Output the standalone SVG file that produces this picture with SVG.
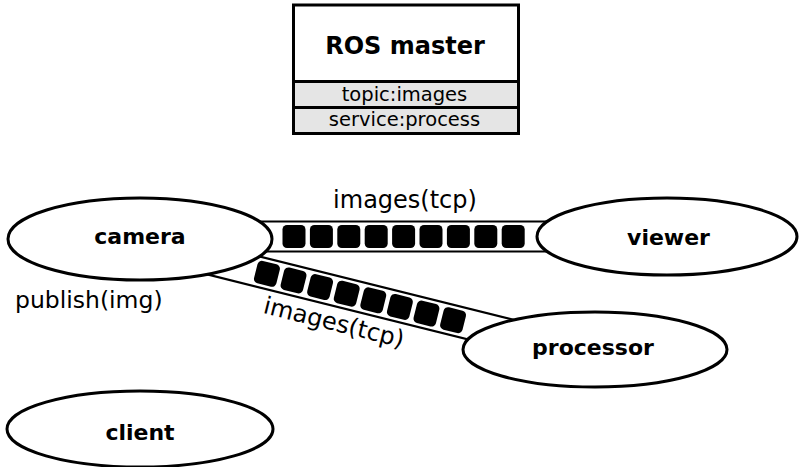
<svg xmlns="http://www.w3.org/2000/svg" width="799" height="467" viewBox="0 0 799 467">
  <style>
    text { font-family: "DejaVu Sans", "Liberation Sans", sans-serif; fill: #000; }
    .node { fill: #fff; stroke: #000; stroke-width: 3; }
    .nlabel { font-size: 22px; font-weight: bold; text-anchor: middle; }
    .rail { stroke: #000; stroke-width: 2.2; fill: none; }
    .msg { fill: #000; }
    .lbl { font-size: 24px; }
    .row { fill: #e5e5e5; stroke: #000; stroke-width: 3; }
    .rowtxt { font-size: 19.5px; text-anchor: middle; }
  </style>
  <defs>
    <rect id="m" x="-11.5" y="-11.5" width="23" height="23" rx="4.5" ry="4.5" class="msg"/>
  </defs>

  <g id="ros-master">
    <rect x="293.5" y="5" width="225" height="76.5" fill="#fff" stroke="#000" stroke-width="3"/>
    <rect class="row" x="293.5" y="81.5" width="225" height="26"/>
    <rect class="row" x="293.5" y="107.5" width="225" height="26"/>
    <text x="405" y="54" style="font-size:24px;font-weight:bold;text-anchor:middle">ROS master</text>
    <text class="rowtxt" x="404.5" y="101">topic:images</text>
    <text class="rowtxt" x="404.5" y="126">service:process</text>
  </g>

  <g id="connectors">
    <g id="camera-viewer">
      <line class="rail" x1="200" y1="221.5" x2="600" y2="221.5"/>
      <line class="rail" x1="200" y1="251.5" x2="600" y2="251.5"/>
      <use href="#m" x="294" y="236.5"/>
      <use href="#m" x="321.4" y="236.5"/>
      <use href="#m" x="348.8" y="236.5"/>
      <use href="#m" x="376.2" y="236.5"/>
      <use href="#m" x="403.6" y="236.5"/>
      <use href="#m" x="431" y="236.5"/>
      <use href="#m" x="458.4" y="236.5"/>
      <use href="#m" x="485.8" y="236.5"/>
      <use href="#m" x="513.2" y="236.5"/>
      <text class="lbl" x="405" y="208" text-anchor="middle">images(tcp)</text>
    </g>
    <g id="camera-processor" transform="translate(360 297) rotate(14)">
      <line class="rail" x1="-200" y1="-15" x2="200" y2="-15"/>
      <line class="rail" x1="-200" y1="15" x2="200" y2="15"/>
      <use href="#m" x="-95.9" y="0"/>
      <use href="#m" x="-68.5" y="0"/>
      <use href="#m" x="-41.1" y="0"/>
      <use href="#m" x="-13.7" y="0"/>
      <use href="#m" x="13.7" y="0"/>
      <use href="#m" x="41.1" y="0"/>
      <use href="#m" x="68.5" y="0"/>
      <use href="#m" x="95.9" y="0"/>
      <text class="lbl" x="-19" y="39" text-anchor="middle">images(tcp)</text>
    </g>
    <text id="publish-label" class="lbl" x="15" y="308" style="font-size:23.5px">publish(img)</text>
  </g>

  <g id="camera">
    <ellipse class="node" cx="140" cy="239" rx="132" ry="41"/>
    <text class="nlabel" x="140" y="243.5">camera</text>
  </g>
  <g id="viewer">
    <ellipse class="node" cx="667" cy="236.5" rx="130" ry="38.5"/>
    <text class="nlabel" x="668.5" y="245">viewer</text>
  </g>
  <g id="processor">
    <ellipse class="node" cx="595" cy="349.5" rx="132" ry="37.5"/>
    <text class="nlabel" x="593" y="355">processor</text>
  </g>
  <g id="client">
    <ellipse class="node" cx="140" cy="429" rx="133" ry="38"/>
    <text class="nlabel" x="140" y="440">client</text>
  </g>
</svg>
